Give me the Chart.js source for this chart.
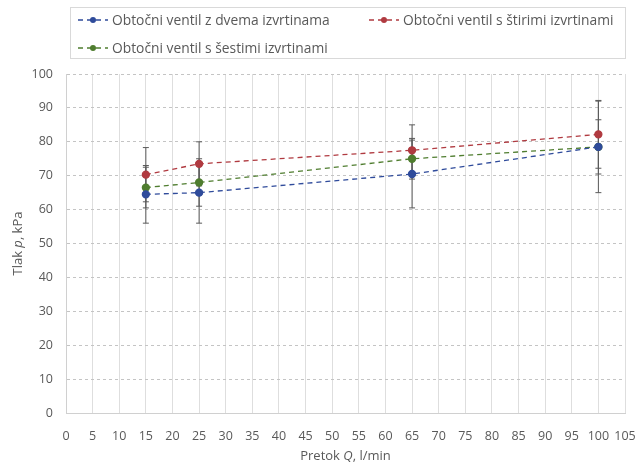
<!DOCTYPE html>
<html>
<head>
<meta charset="utf-8">
<script src="https://cdn.jsdelivr.net/npm/chart.js@4.4.0/dist/chart.umd.min.js"></script>
<style>
  body { margin: 0; background: #fff; }
  #wrap { position: relative; width: 636px; height: 466px; }
  #legend {
    position: absolute; left: 70px; top: 7px; width: 556px; height: 52px;
    border: 1px solid #d9d9d9; box-sizing: border-box;
    font-family: "Open Sans", sans-serif; font-size: 13.8px; color: #595959;
  }
  .item { position: absolute; display: flex; align-items: center; white-space: nowrap; }
  .item svg { margin-right: 3px; }
</style>
</head>
<body>
<div id="wrap">
  <canvas id="chart" width="636" height="466"></canvas>
  <div id="legend"></div>
</div>
<script>
// data
const flow = [15, 25, 65, 100];
const seriesNames = ['Obtočni ventil z dvema izvrtinama', 'Obtočni ventil s štirimi izvrtinami', 'Obtočni ventil s šestimi izvrtinami'];
const dvema = [64.5, 65, 70.5, 78.5];
const stirimi = [70.3, 73.5, 77.5, 82.2];
const sestimi = [66.5, 68, 75, 78.5];
const dvemaErr = [8.5, 9, 10, 13.5];
const stirimiErr = [8, 6.5, 7.5, 10];
const sestimiErr = [6, 7, 6, 8];
const colors = ['#2f4b9b', '#b03a40', '#4f7d2f'];

const values = [dvema, stirimi, sestimi];
const errors = [dvemaErr, stirimiErr, sestimiErr];
const font = 'Open Sans';

// error bars drawn through the chart scales
const errorBars = {
  id: 'errorBars',
  beforeDatasetsDraw(chart) {
    const ctx = chart.ctx;
    const xs = chart.scales.x, ys = chart.scales.y;
    ctx.save();
    ctx.strokeStyle = '#5a5a5a';
    ctx.lineWidth = 1;
    values.forEach((vals, i) => {
      vals.forEach((v, j) => {
        const x = xs.getPixelForValue(flow[j]);
        const y1 = ys.getPixelForValue(v - errors[i][j]);
        const y2 = ys.getPixelForValue(v + errors[i][j]);
        ctx.beginPath();
        ctx.moveTo(x, y1); ctx.lineTo(x, y2);
        ctx.moveTo(x - 3, y1); ctx.lineTo(x + 3, y1);
        ctx.moveTo(x - 3, y2); ctx.lineTo(x + 3, y2);
        ctx.stroke();
      });
    });
    ctx.restore();
  }
};

// axis titles with italic symbol
function drawParts(ctx, parts, x, y) {
  let w = 0;
  parts.forEach(p => { ctx.font = p[1] + ' 13px "' + font + '"'; w += ctx.measureText(p[0]).width; });
  let cx = x - w / 2;
  parts.forEach(p => {
    ctx.font = p[1] + ' 13px "' + font + '"';
    ctx.fillText(p[0], cx, y);
    cx += ctx.measureText(p[0]).width;
  });
}
const axisTitles = {
  id: 'axisTitles',
  afterDraw(chart) {
    const ctx = chart.ctx, a = chart.chartArea;
    ctx.save();
    ctx.fillStyle = '#595959';
    ctx.textBaseline = 'middle';
    ctx.textAlign = 'left';
    drawParts(ctx, [['Pretok ', 'normal'], ['Q', 'italic'], [', l/min', 'normal']], (a.left + a.right) / 2, 456);
    ctx.translate(18, (a.top + a.bottom) / 2);
    ctx.rotate(-Math.PI / 2);
    drawParts(ctx, [['Tlak ', 'normal'], ['p', 'italic'], [', kPa', 'normal']], 0, 0);
    ctx.restore();
  }
};

const datasets = values.map((vals, i) => ({
  label: seriesNames[i],
  data: vals.map((v, j) => ({ x: flow[j], y: v })),
  showLine: true,
  borderColor: colors[i],
  backgroundColor: colors[i],
  borderDash: [5, 4],
  borderWidth: 1.3,
  pointRadius: 3.5,
  pointHoverRadius: 3.5
}));

new Chart(document.getElementById('chart'), {
  type: 'scatter',
  data: { datasets: datasets },
  options: {
    responsive: false,
    animation: false,
    layout: { padding: { top: 74, right: 11, left: 0, bottom: 0 } },
    plugins: { legend: { display: false }, tooltip: { enabled: false } },
    scales: {
      x: {
        min: 0, max: 105,
        ticks: { stepSize: 5, padding: 16, minRotation: 0, maxRotation: 0, autoSkip: false,
                 color: '#595959', font: { family: font, size: 12.5 } },
        grid: { color: '#dedede', drawTicks: false },
        border: { color: '#d0d0d0' },
        afterFit(scale) { scale.height = 53; scale.paddingRight = 0; scale.paddingLeft = 0; }
      },
      y: {
        min: 0, max: 100,
        ticks: { stepSize: 10, padding: 13, color: '#595959', font: { family: font, size: 12.5 } },
        grid: { color: '#c4c4c4', drawTicks: false },
        border: { color: '#d0d0d0', dash: [3, 3] },
        afterFit(scale) { scale.width = 66; }
      }
    }
  },
  plugins: [errorBars, axisTitles]
});

// html legend
const legend = document.getElementById('legend');
const spots = [[6, 12], [297, 12], [6, 40]];
seriesNames.forEach((name, i) => {
  const el = document.createElement('div');
  el.className = 'item';
  el.style.left = spots[i][0] + 'px';
  el.style.top = (spots[i][1] - 10) + 'px';
  el.innerHTML = '<svg width="32" height="10"><line x1="1" y1="5" x2="31" y2="5" stroke="' + colors[i] +
    '" stroke-width="1.3" stroke-dasharray="5,4"/><circle cx="16" cy="5" r="3" fill="' + colors[i] + '"/></svg>' + name;
  legend.appendChild(el);
});
</script>
</body>
</html>
